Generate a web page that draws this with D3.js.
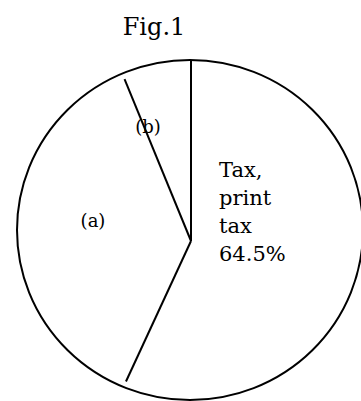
<!DOCTYPE html>
<html>
<head>
<meta charset="utf-8">
<script src="https://cdn.jsdelivr.net/npm/d3@7"></script>
<style>
html,body{margin:0;padding:0;background:#fff;}
svg{display:block;}
</style>
</head>
<body>
<svg id="chart" width="361" height="401"></svg>
<script>
// Data (clockwise from 12 o'clock), shares
const categories = ["Tax, print tax", "(a)", "(b)"];
const shares = [56.9, 36.9, 6.2];
const labelLines = [["Tax,", "print", "tax", "64.5%"], ["(a)"], ["(b)"]];
const title = "Fig.1";

const FONT = "'DejaVu Serif', 'Liberation Serif', serif";
const svg = d3.select("#chart");

// ellipse outline and hub (hub slightly below ellipse centre, as in reference)
const cx = 190, cy = 230, rx = 173, ry = 170;
const hub = {x: 191, y: 241};

svg.append("text")
  .attr("x", 154).attr("y", 35)
  .attr("text-anchor", "middle")
  .attr("font-family", FONT)
  .attr("font-size", 24)
  .text(title);

svg.append("ellipse")
  .attr("cx", cx).attr("cy", cy).attr("rx", rx).attr("ry", ry)
  .attr("fill", "none").attr("stroke", "#000").attr("stroke-width", 2);

const pie = d3.pie().sort(null).value(d => d)(shares);

function rayLength(theta) {
  const dx = Math.sin(theta), dy = -Math.cos(theta);
  const ox = hub.x - cx, oy = hub.y - cy;
  const A = (dx*dx)/(rx*rx) + (dy*dy)/(ry*ry);
  const B = 2*((ox*dx)/(rx*rx) + (oy*dy)/(ry*ry));
  const C = (ox*ox)/(rx*rx) + (oy*oy)/(ry*ry) - 1;
  return (-B + Math.sqrt(B*B - 4*A*C)) / (2*A);
}

svg.append("g").selectAll("line")
  .data(pie)
  .join("line")
  .attr("x1", hub.x).attr("y1", hub.y)
  .attr("x2", (d, i) => hub.x + Math.sin(d.startAngle) * (rayLength(d.startAngle) - (i === 0 ? 0 : 6)))
  .attr("y2", (d, i) => hub.y - Math.cos(d.startAngle) * (rayLength(d.startAngle) - (i === 0 ? 0 : 6)))
  .attr("stroke", "#000").attr("stroke-width", 2).attr("stroke-linecap", "butt");

const labelPos = [
  {x: 219, y: 177, size: 21, anchor: "start", lh: 28},
  {x: 93, y: 227, size: 18, anchor: "middle", lh: 0},
  {x: 148, y: 133, size: 18, anchor: "middle", lh: 0}
];
labelLines.forEach((lines, i) => {
  const p = labelPos[i];
  const t = svg.append("text")
    .attr("x", p.x).attr("y", p.y)
    .attr("text-anchor", p.anchor)
    .attr("font-family", FONT)
    .attr("font-size", p.size);
  lines.forEach((ln, j) => {
    t.append("tspan").attr("x", p.x).attr("y", p.y + j * p.lh).text(ln);
  });
});
</script>
</body>
</html>
